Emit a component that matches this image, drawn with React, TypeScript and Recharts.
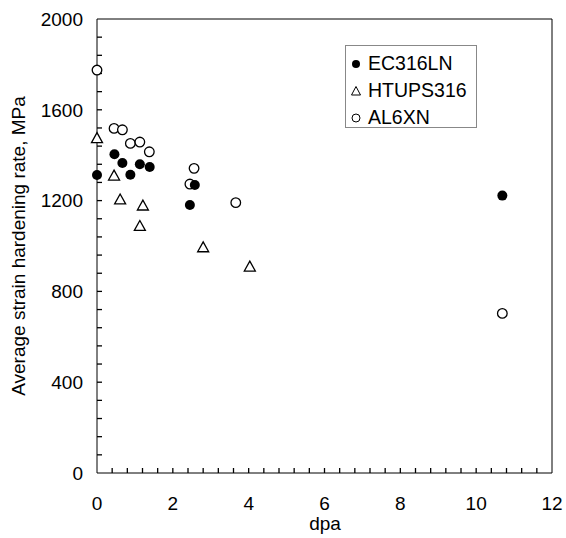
import { ScatterChart, Scatter, XAxis, YAxis, ReferenceLine } from 'recharts'

const ec316ln = [
  { dpa: 0, rate: 1313 },
  { dpa: 0.46, rate: 1404 },
  { dpa: 0.67, rate: 1366 },
  { dpa: 0.88, rate: 1314 },
  { dpa: 1.13, rate: 1360 },
  { dpa: 1.39, rate: 1348 },
  { dpa: 2.45, rate: 1181 },
  { dpa: 2.58, rate: 1269 },
  { dpa: 10.69, rate: 1222 },
]

const htups316 = [
  { dpa: 0, rate: 1475 },
  { dpa: 0.45, rate: 1310 },
  { dpa: 0.61, rate: 1205 },
  { dpa: 1.13, rate: 1088 },
  { dpa: 1.21, rate: 1178 },
  { dpa: 2.8, rate: 994 },
  { dpa: 4.03, rate: 909 },
]

const al6xn = [
  { dpa: 0, rate: 1775 },
  { dpa: 0.45, rate: 1518 },
  { dpa: 0.67, rate: 1512 },
  { dpa: 0.88, rate: 1452 },
  { dpa: 1.13, rate: 1458 },
  { dpa: 1.38, rate: 1415 },
  { dpa: 2.45, rate: 1273 },
  { dpa: 2.56, rate: 1342 },
  { dpa: 3.66, rate: 1191 },
  { dpa: 10.69, rate: 703 },
]

// minor ticks every 0.4 dpa / 80 MPa, labels only on the majors
const xTicks = [
  0, 0.4, 0.8, 1.2, 1.6, 2, 2.4, 2.8, 3.2, 3.6, 4, 4.4, 4.8, 5.2, 5.6, 6, 6.4, 6.8, 7.2, 7.6, 8, 8.4,
  8.8, 9.2, 9.6, 10, 10.4, 10.8, 11.2, 11.6, 12,
]
const xLabels = [0, 2, 4, 6, 8, 10, 12]
const yTicks = [
  0, 80, 160, 240, 320, 400, 480, 560, 640, 720, 800, 880, 960, 1040, 1120, 1200, 1280, 1360, 1440,
  1520, 1600, 1680, 1760, 1840, 1920, 2000,
]
const yLabels = [0, 400, 800, 1200, 1600, 2000]

const FONT = '"Liberation Sans", Arial, sans-serif'
const TICK_LEN = 5
const tickStyle = { fontSize: 19, fontFamily: FONT, fill: '#000' }

// inward tick marks, placed through the chart scales as tiny scatter glyphs
const xTickMarks = xTicks.slice(1, -1).map((t) => ({ dpa: t, rate: 0 }))
const yTickMarks = yTicks.slice(1, -1).map((t) => ({ dpa: 0, rate: t }))

const fmtX = (v: number) => {
  const r = Math.round(v * 10) / 10
  return xLabels.includes(r) ? String(r) : ''
}
const fmtY = (v: number) => (yLabels.includes(v) ? String(v) : '')

const XMark = (p: any) => <line x1={p.cx} y1={p.cy} x2={p.cx} y2={p.cy - TICK_LEN} stroke="#000" strokeWidth={1.3} />
const YMark = (p: any) => <line x1={p.cx} y1={p.cy} x2={p.cx + TICK_LEN} y2={p.cy} stroke="#000" strokeWidth={1.3} />

const Filled = (p: any) => <circle cx={p.cx} cy={p.cy} r={5} fill="#000" />
const Open = (p: any) => <circle cx={p.cx} cy={p.cy} r={4.8} fill="#fff" stroke="#000" strokeWidth={1.3} />
const Tri = (p: any) => {
  const { cx, cy } = p
  const s = 5.5
  return (
    <path
      d={`M${cx},${cy - s} L${cx + s},${cy + s * 0.8} L${cx - s},${cy + s * 0.8} Z`}
      fill="#fff"
      stroke="#000"
      strokeWidth={1.3}
    />
  )
}

function LegendBox() {
  const rows = [
    { name: 'EC316LN', icon: <circle cx={6} cy={6} r={4} fill="#000" /> },
    { name: 'HTUPS316', icon: <path d="M6,1.5 L10.5,10 L1.5,10 Z" fill="#fff" stroke="#000" strokeWidth={1} /> },
    { name: 'AL6XN', icon: <circle cx={6} cy={6} r={4} fill="#fff" stroke="#000" strokeWidth={1} /> },
  ]
  return (
    <div
      style={{
        position: 'absolute',
        left: 345,
        top: 45,
        width: 132,
        height: 83,
        border: '1px solid #888',
        background: '#fff',
        fontFamily: FONT,
        fontSize: 19.5,
        boxSizing: 'border-box',
        paddingTop: 4,
      }}
    >
      {rows.map((r) => (
        <div key={r.name} style={{ display: 'flex', alignItems: 'center', height: 27, paddingLeft: 4 }}>
          <svg width={12} height={12} style={{ marginRight: 6 }}>
            {r.icon}
          </svg>
          <span>{r.name}</span>
        </div>
      ))}
    </div>
  )
}

export default function App() {
  return (
    <div style={{ position: 'absolute', left: 0, top: 0, width: 566, height: 538, background: '#fff' }}>
      <ScatterChart width={566} height={538} margin={{ top: 19, right: 14, left: 37, bottom: 25 }}>
        <XAxis
          type="number"
          dataKey="dpa"
          domain={[0, 12]}
          ticks={xTicks}
          interval={0}
          tickSize={0}
          tickMargin={24}
          tickLine={false}
          tick={tickStyle}
          tickFormatter={fmtX}
          height={40}
          stroke="#000"
          label={{
            content: () => (
              <text x={325} y={530} textAnchor="middle" fontSize={19} fontFamily={FONT} fill="#000">
                dpa
              </text>
            ),
          }}
        />
        <YAxis
          type="number"
          dataKey="rate"
          domain={[0, 2000]}
          ticks={yTicks}
          interval={0}
          tickSize={0}
          tickMargin={14}
          tickLine={false}
          tick={tickStyle}
          tickFormatter={fmtY}
          width={60}
          stroke="#000"
          label={{
            content: () => (
              <text
                transform="translate(25,246) rotate(-90)"
                textAnchor="middle"
                fontSize={19}
                fontFamily={FONT}
                fill="#000"
              >
                Average strain hardening rate, MPa
              </text>
            ),
          }}
        />
        <ReferenceLine x={12} stroke="#000" strokeWidth={1} />
        <ReferenceLine y={2000} stroke="#000" strokeWidth={1} />
        <Scatter data={xTickMarks} shape={XMark} isAnimationActive={false} legendType="none" />
        <Scatter data={yTickMarks} shape={YMark} isAnimationActive={false} legendType="none" />
        <Scatter data={htups316} shape={Tri} isAnimationActive={false} />
        <Scatter data={al6xn} shape={Open} isAnimationActive={false} />
        <Scatter data={ec316ln} shape={Filled} isAnimationActive={false} />
      </ScatterChart>
      <LegendBox />
    </div>
  )
}
